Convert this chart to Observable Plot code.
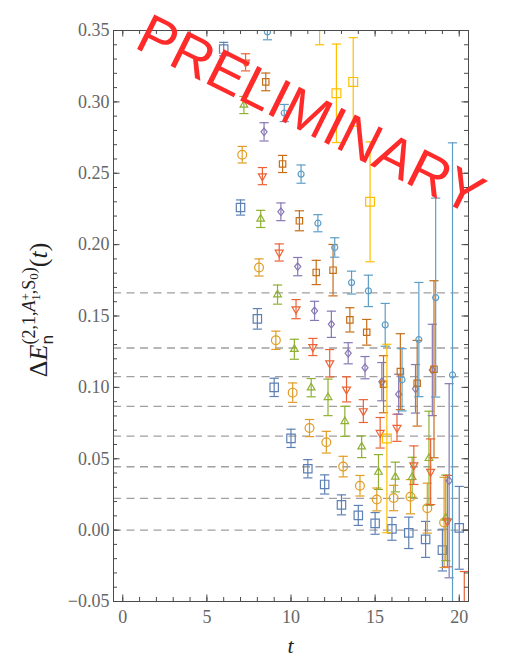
<!DOCTYPE html>
<html><head><meta charset="utf-8">
<script src="https://cdn.jsdelivr.net/npm/d3@7"></script>
<script src="https://cdn.jsdelivr.net/npm/@observablehq/plot@0.6"></script>
<style>body{margin:0;background:#fff} svg{display:block}</style>
</head><body><div id="chart"></div>
<script>
// ---- data ----
const xTicks = [0, 5, 10, 15, 20];
const yTicks = [-0.05, 0, 0.05, 0.10, 0.15, 0.20, 0.25, 0.30, 0.35];
const thresholds = [0, 0.0222, 0.0444, 0.0659, 0.0867, 0.1075, 0.1276, 0.1662];

const blueT = [6,7,8,9,10,11,12,13,14,15,16,17,18,19,20];
const blueV = [0.337,0.226,0.148,0.100,0.0643,0.043,0.032,0.0177,0.0103,0.0047,0.0009,-0.0019,-0.0065,-0.014,0.0016];
const blueE = [0.0047,0.0053,0.0072,0.0064,0.0064,0.0064,0.0067,0.007,0.007,0.0076,0.008,0.011,0.0126,0.0146,0.029];

const orangeT = [7,8,9,10,11,12,13,14,15,16,17,18,19];
const orangeV = [0.263,0.184,0.133,0.0963,0.0715,0.0616,0.0445,0.0311,0.0215,0.0225,0.0234,0.0154,0.0054];
const orangeE = [0.0058,0.006,0.0064,0.0068,0.006,0.0076,0.0072,0.0072,0.008,0.0089,0.012,0.0175,0.0316];

const greenT = [7,8,9,10,11,12,13,14,15,16,17,18,19];
const greenV = [0.2978,0.218,0.165,0.1267,0.0998,0.093,0.0762,0.0584,0.0407,0.0372,0.037,0.0503,0.0086];
const greenE = [0.006,0.006,0.0067,0.007,0.0064,0.0128,0.0105,0.0076,0.0122,0.0104,0.014,0.033,0.03];

const redT = [7,8,9,10,11,12,13,14,15,16,17,18,19,20];
const redV = [0.3277,0.248,0.1945,0.1548,0.1283,0.1169,0.0986,0.0834,0.0682,0.0717,0.0455,0.0409,0.0063,-0.06];
const redE = [0.006,0.006,0.006,0.0067,0.006,0.0096,0.0088,0.008,0.0107,0.0095,0.0135,0.023,0.032,0.031];

const purpleT = [8,9,10,11,12,13,14,15,16,17,18,19];
const purpleV = [0.279,0.223,0.1846,0.1536,0.1442,0.1239,0.1138,0.104,0.0952,0.099,0.1122,0.0346];
const purpleE = [0.0064,0.0062,0.0064,0.0067,0.0092,0.0074,0.0078,0.0134,0.014,0.017,0.032,0.068];

const brownT = [8,9,10,11,12,13,14,15,16,17,18];
const brownV = [0.314,0.2565,0.2167,0.1805,0.1821,0.1473,0.1386,0.1022,0.111,0.1029,0.1127];
const brownE = [0.0062,0.006,0.007,0.0085,0.018,0.0085,0.009,0.02,0.0266,0.03,0.062];

const lightT = [8,9,10,11,12,13,14,15,16,17,18,19];
const lightV = [0.349,0.2922,0.2494,0.215,0.198,0.1734,0.1676,0.1438,0.1053,0.1335,0.1629,0.1087];
const lightE = [0.0055,0.006,0.0064,0.006,0.0068,0.008,0.011,0.015,0.0218,0.04,0.0697,0.1626];

const yellowT = [11,12,13,14,15];
const yellowV = [0.38,0.306,0.314,0.230,0.0642];
const yellowE = [0.04,0.0345,0.031,0.042,0.066];

// ---- symbols ----
const R = s => Math.sqrt(s / Math.PI);
const symSquare = {draw(c, s){const r = R(s); c.rect(-r, -r, 2*r, 2*r);}};
const symCircle = {draw(c, s){const r = R(s); c.moveTo(r, 0); c.arc(0, 0, r, 0, 2*Math.PI);}};
const symUp = {draw(c, s){const r = R(s); c.moveTo(0, -r); c.lineTo(r*0.866, r*0.5); c.lineTo(-r*0.866, r*0.5); c.closePath();}};
const symDown = {draw(c, s){const r = R(s); c.moveTo(0, r); c.lineTo(r*0.866, -r*0.5); c.lineTo(-r*0.866, -r*0.5); c.closePath();}};
const symDiamond = {draw(c, s){const r = R(s); c.moveTo(0, -r); c.lineTo(r*0.8, 0); c.lineTo(0, r); c.lineTo(-r*0.8, 0); c.closePath();}};
const symCap = {draw(c, s){const r = R(s); c.moveTo(-r, 0); c.lineTo(r, 0);}};

const series = [
  {t: blueT, v: blueV, e: blueE, color: "#5E81B5", sym: symSquare, r: 4.2, dx: 0},
  {t: orangeT, v: orangeV, e: orangeE, color: "#E19C24", sym: symCircle, r: 4.4, dx: 1.68},
  {t: greenT, v: greenV, e: greenE, color: "#8FB032", sym: symUp, r: 4.4, dx: 3.36},
  {t: redT, v: redV, e: redE, color: "#EB6235", sym: symDown, r: 4.6, dx: 5.04},
  {t: purpleT, v: purpleV, e: purpleE, color: "#8778B3", sym: symDiamond, r: 3.8, dx: 6.72},
  {t: brownT, v: brownV, e: brownE, color: "#C56E1A", sym: symSquare, r: 3.2, dx: 8.4},
  {t: lightT, v: lightV, e: lightE, color: "#5D9EC7", sym: symCircle, r: 3.0, dx: 10.08},
  {t: yellowT, v: yellowV, e: yellowE, color: "#FFBF00", sym: symSquare, r: 4.4, dx: 11.76}
];

const W = 505, H = 658, mL = 113, mR = 37, mT = 30, mB = 57;
const iw = W - mL - mR, ih = H - mT - mB;
const tickCol = "#4a4a4a";
const xMinor = d3.range(0, 21);
const yMinor = d3.range(-5, 36).map(k => k / 100);

const marks = [
  Plot.ruleY(thresholds, {stroke: "#a0a0a0", strokeWidth: 1.3, strokeDasharray: "8,5.5"})
];
for (const s of series) {
  const rows = s.t.map((t, i) => ({t, v: s.v[i], e: s.e[i]}));
  const common = {stroke: s.color, strokeWidth: 1.2, dx: s.dx, clip: true};
  marks.push(
    Plot.ruleX(rows, {x: "t", y1: d => d.v - d.e, y2: d => d.v + d.e, ...common}),
    Plot.dot(rows, {x: "t", y: d => d.v - d.e, symbol: symCap, r: 4.6, fill: "none", ...common}),
    Plot.dot(rows, {x: "t", y: d => d.v + d.e, symbol: symCap, r: 4.6, fill: "none", ...common}),
    Plot.dot(rows, {x: "t", y: "v", symbol: s.sym, r: s.r, fill: "none", ...common})
  );
}
marks.push(
  // ticks, inward on all four sides
  Plot.ruleX(xMinor, {stroke: tickCol, insetTop: ih - 4}),
  Plot.ruleX(xTicks, {stroke: tickCol, insetTop: ih - 6.5}),
  Plot.ruleX(xMinor, {stroke: tickCol, insetBottom: ih - 4}),
  Plot.ruleX(xTicks, {stroke: tickCol, insetBottom: ih - 6.5}),
  Plot.ruleY(yMinor, {stroke: tickCol, insetRight: iw - 4}),
  Plot.ruleY(yTicks, {stroke: tickCol, insetRight: iw - 6.5}),
  Plot.ruleY(yMinor, {stroke: tickCol, insetLeft: iw - 4}),
  Plot.ruleY(yTicks, {stroke: tickCol, insetLeft: iw - 6.5}),
  Plot.frame({stroke: tickCol, strokeWidth: 1}),
  Plot.axisX({ticks: xTicks, tickSize: 0, tickPadding: 8.5, label: null, fill: "#666",
    fontSize: 18, fontFamily: "Liberation Serif"}),
  Plot.axisY({ticks: yTicks, tickSize: 0, tickPadding: 4, label: null, fill: "#666",
    tickFormat: d3.format(".2f"), fontSize: 18, fontFamily: "Liberation Serif"})
);

const chart = Plot.plot({
  width: W, height: H,
  marginLeft: mL, marginRight: mR, marginTop: mT, marginBottom: mB,
  x: {domain: [-0.55, 20.55]},
  y: {domain: [-0.05, 0.35]},
  style: {fontFamily: "Liberation Serif", background: "#fff", overflow: "visible"},
  marks
});
document.getElementById("chart").appendChild(chart);

const svg = d3.select(chart);
// y-axis label
const yl = svg.append("text")
  .attr("transform", "translate(47,310) rotate(-90)")
  .attr("text-anchor", "middle")
  .attr("font-family", "Liberation Serif")
  .attr("font-size", 26)
  .attr("fill", "#222");
yl.append("tspan").text("Δ");
yl.append("tspan").attr("font-style", "italic").text("E");
yl.append("tspan").attr("font-family", "DejaVu Sans").attr("font-size", 16).attr("dy", 6).text("n");
yl.append("tspan").attr("font-size", 18).attr("dx", -10).attr("dy", -18).text("(2,1,");
yl.append("tspan").attr("font-size", 18).attr("font-style", "italic").text("A");
yl.append("tspan").attr("font-size", 13).attr("dy", -5).text("+");
yl.append("tspan").attr("font-size", 13).attr("dx", -7.5).attr("dy", 10).text("1");
yl.append("tspan").attr("font-size", 18).attr("dy", -5).text(",S");
yl.append("tspan").attr("font-size", 13).attr("dy", 3).text("0");
yl.append("tspan").attr("font-size", 18).attr("dy", -3).text(")");
yl.append("tspan").attr("dy", 12).text("(");
yl.append("tspan").attr("font-style", "italic").text("t");
yl.append("tspan").text(")");

// x-axis label
svg.append("text")
  .attr("x", mL + iw / 2).attr("y", 653)
  .attr("text-anchor", "middle")
  .attr("font-family", "Liberation Serif").attr("font-style", "italic")
  .attr("font-size", 22).attr("fill", "#222")
  .text("t");

// watermark
svg.append("text")
  .attr("transform", "translate(133,47) rotate(26.5)")
  .attr("text-anchor", "start")
  .attr("font-family", "Liberation Sans")
  .attr("font-size", 56)
  .attr("fill", "#ff2a2a")
  .text("PRELIMINARY");
</script>
</body></html>
